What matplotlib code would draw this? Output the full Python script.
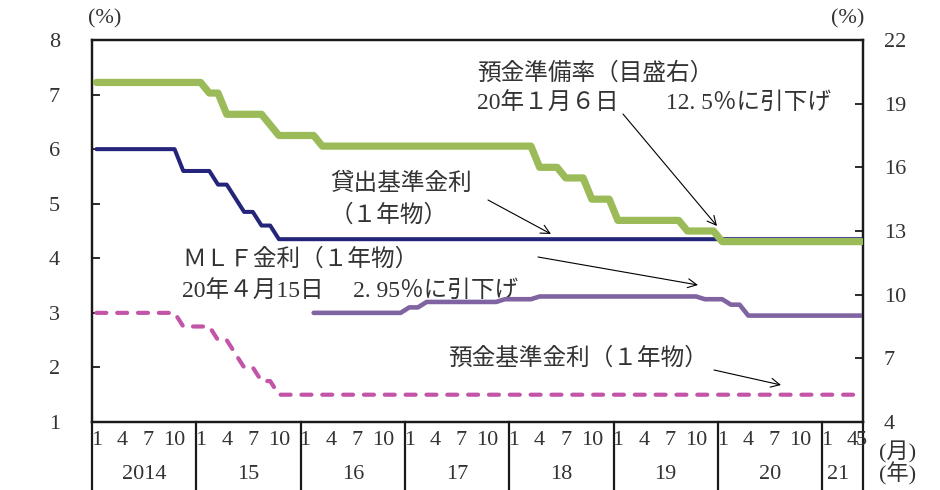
import matplotlib
matplotlib.use('Agg')
import matplotlib.pyplot as plt
import numpy as np
from matplotlib.transforms import blended_transform_factory

plt.rcParams['font.family'] = ['Liberation Serif', 'Noto Sans CJK JP']

# ---- data (monthly, Jan 2014 - May 2021) ----
year_labels = ['2014', '15', '16', '17', '18', '19', '20', '21']
month_labels = [1, 4, 7, 10]
last_year_month_labels = [1, 4, 5]

rrr = [  # 預金準備率 (right axis)
    20, 20, 20, 20, 20, 20, 20, 20, 20, 20, 20, 20,
    20, 19.5, 19.5, 18.5, 18.5, 18.5, 18.5, 18.5, 18, 17.5, 17.5, 17.5,
    17.5, 17.5, 17, 17, 17, 17, 17, 17, 17, 17, 17, 17,
    17, 17, 17, 17, 17, 17, 17, 17, 17, 17, 17, 17,
    17, 17, 17, 16, 16, 16, 15.5, 15.5, 15.5, 14.5, 14.5, 14.5,
    13.5, 13.5, 13.5, 13.5, 13.5, 13.5, 13.5, 13.5, 13, 13, 13, 13,
    12.5, 12.5, 12.5, 12.5, 12.5, 12.5, 12.5, 12.5, 12.5, 12.5, 12.5, 12.5,
    12.5, 12.5, 12.5, 12.5, 12.5,
]
lending = [  # 貸出基準金利（1年物）
    6, 6, 6, 6, 6, 6, 6, 6, 6, 6, 5.6, 5.6,
    5.6, 5.6, 5.35, 5.35, 5.1, 4.85, 4.85, 4.6, 4.6, 4.35, 4.35, 4.35,
    4.35, 4.35, 4.35, 4.35, 4.35, 4.35, 4.35, 4.35, 4.35, 4.35, 4.35, 4.35,
    4.35, 4.35, 4.35, 4.35, 4.35, 4.35, 4.35, 4.35, 4.35, 4.35, 4.35, 4.35,
    4.35, 4.35, 4.35, 4.35, 4.35, 4.35, 4.35, 4.35, 4.35, 4.35, 4.35, 4.35,
    4.35, 4.35, 4.35, 4.35, 4.35, 4.35, 4.35, 4.35, 4.35, 4.35, 4.35, 4.35,
    4.35, 4.35, 4.35, 4.35, 4.35, 4.35, 4.35, 4.35, 4.35, 4.35, 4.35, 4.35,
    4.35, 4.35, 4.35, 4.35, 4.35,
]
deposit = [  # 預金基準金利（1年物）
    3, 3, 3, 3, 3, 3, 3, 3, 3, 3, 2.75, 2.75,
    2.75, 2.75, 2.5, 2.5, 2.25, 2.0, 2.0, 1.75, 1.75, 1.5, 1.5, 1.5,
    1.5, 1.5, 1.5, 1.5, 1.5, 1.5, 1.5, 1.5, 1.5, 1.5, 1.5, 1.5,
    1.5, 1.5, 1.5, 1.5, 1.5, 1.5, 1.5, 1.5, 1.5, 1.5, 1.5, 1.5,
    1.5, 1.5, 1.5, 1.5, 1.5, 1.5, 1.5, 1.5, 1.5, 1.5, 1.5, 1.5,
    1.5, 1.5, 1.5, 1.5, 1.5, 1.5, 1.5, 1.5, 1.5, 1.5, 1.5, 1.5,
    1.5, 1.5, 1.5, 1.5, 1.5, 1.5, 1.5, 1.5, 1.5, 1.5, 1.5, 1.5,
    1.5, 1.5, 1.5, 1.5, 1.5,
]
nan = np.nan
mlf = [  # MLF金利（1年物）
    nan, nan, nan, nan, nan, nan, nan, nan, nan, nan, nan, nan,
    nan, nan, nan, nan, nan, nan, nan, nan, nan, nan, nan, nan,
    nan, 3.0, 3.0, 3.0, 3.0, 3.0, 3.0, 3.0, 3.0, 3.0, 3.0, 3.0,
    3.1, 3.1, 3.2, 3.2, 3.2, 3.2, 3.2, 3.2, 3.2, 3.2, 3.2, 3.25,
    3.25, 3.25, 3.25, 3.3, 3.3, 3.3, 3.3, 3.3, 3.3, 3.3, 3.3, 3.3,
    3.3, 3.3, 3.3, 3.3, 3.3, 3.3, 3.3, 3.3, 3.3, 3.3, 3.25, 3.25,
    3.25, 3.15, 3.15, 2.95, 2.95, 2.95, 2.95, 2.95, 2.95, 2.95, 2.95, 2.95,
    2.95, 2.95, 2.95, 2.95, 2.95,
]

n = len(rrr)
x = np.arange(n) + 0.5

# ---- figure ----
W, H = 940, 490
fig = plt.figure(figsize=(W / 100, H / 100), dpi=100)
L, R, T, B = 92, 863, 40, 422
ax = fig.add_axes([L / W, 1 - B / H, (R - L) / W, (B - T) / H])
ax2 = ax.twinx()

c_green = '#9BBB59'
c_navy = '#24247A'
c_purple = '#8064A2'
c_pink = '#C355A8'
txt = '#333333'
spc = '#1a1a1a'
FS_NUM = 16
FS_JP = 17

ax.plot(x, deposit, color=c_pink, lw=3.0, linestyle=(0, (2.4, 2.6)),
        dash_capstyle='round', zorder=3)
ax.plot(x, lending, color=c_navy, lw=2.9, solid_capstyle='round', zorder=4)
ax.plot(x, mlf, color=c_purple, lw=3.3, solid_capstyle='round', zorder=4)
ax2.plot(x, rrr, color=c_green, lw=5.2, solid_capstyle='round', zorder=5)

xmax = 88.7
ax.set_xlim(0, xmax)
ax.set_ylim(1, 8)
ax2.set_ylim(4, 22)
ax.set_yticks(range(1, 9))
ax2.set_yticks(range(4, 23, 3))
ax.set_xticks([])

ax.tick_params(axis='y', direction='in', length=6, width=1.3, pad=23,
               labelsize=FS_NUM, colors=spc)
ax2.tick_params(axis='y', direction='in', length=6, width=1.3, pad=15,
                labelsize=FS_NUM, colors=spc)
for a in (ax, ax2):
    for s in a.spines.values():
        s.set_linewidth(1.6)
        s.set_color(spc)
for lab in ax.get_yticklabels() + ax2.get_yticklabels():
    lab.set_color(txt)

# ---- category-style x axis (months / years) ----
tr = blended_transform_factory(ax.transData, ax.transAxes)
ybot = -(H - B) / (B - T) - 0.01
bounds = list(range(0, 85, 12)) + [xmax]
for bx in bounds:
    ax.plot([bx, bx], [0, ybot], transform=tr, clip_on=False,
            color=spc, lw=1.6)
for k, yl in enumerate(year_labels):
    start = 12 * k
    last = k == len(year_labels) - 1
    months = last_year_month_labels if last else month_labels
    for m in months:
        ax.text(start + m - 0.5, -0.048, str(m), transform=tr, ha='center',
                va='center', fontsize=FS_NUM, color=txt)
    end = min(start + 12, xmax)
    ax.text((start + end) / 2 - (0.5 if last else 0), -0.138, yl,
            transform=tr, ha='center', va='center', fontsize=FS_NUM, color=txt)

fig.text(879 / W, 1 - 452 / H, '(月)', ha='left', va='center', fontsize=FS_NUM, color=txt)
fig.text(879 / W, 1 - 474 / H, '(年)', ha='left', va='center', fontsize=FS_NUM, color=txt)
fig.text(88 / W, 1 - 19 / H, '(%)', ha='left', va='center', fontsize=FS_NUM, color=txt)
fig.text(864 / W, 1 - 19 / H, '(%)', ha='right', va='center', fontsize=FS_NUM, color=txt)

# ---- annotations (left-axis data coordinates) ----
def px(xp, yp):
    return ((xp - L) / (R - L) * xmax, 8 - (yp - T) / (B - T) * 7)

ap = dict(arrowstyle='->', color='black', lw=0.8, mutation_scale=16,
          shrinkA=0, shrinkB=0)

ax.text(*px(477, 73), '預金準備率（目盛右）', ha='left', va='center', fontsize=FS_JP, color=txt)
ax.text(*px(477, 104), '20年１月６日　　12. 5％に引下げ', ha='left', va='center', fontsize=FS_JP, color=txt)
ax.annotate('', xy=px(717, 226), xytext=px(623, 114), arrowprops=ap)

ax.text(*px(330, 184), '貸出基準金利', ha='left', va='center', fontsize=FS_JP, color=txt)
ax.text(*px(330, 215), '（１年物）', ha='left', va='center', fontsize=FS_JP, color=txt)
ax.annotate('', xy=px(551, 234), xytext=px(488, 200), arrowprops=ap)

ax.text(*px(182, 260), 'ＭＬＦ金利（１年物）', ha='left', va='center', fontsize=FS_JP, color=txt)
ax.text(*px(182, 292), '20年４月15日　 2. 95％に引下げ', ha='left', va='center', fontsize=FS_JP, color=txt)
ax.annotate('', xy=px(698, 285), xytext=px(538, 257), arrowprops=ap)

ax.text(*px(448, 358), '預金基準金利（１年物）', ha='left', va='center', fontsize=FS_JP, color=txt)
ax.annotate('', xy=px(781, 385), xytext=px(714, 370), arrowprops=ap)

fig.savefig('out.png', dpi=100)
